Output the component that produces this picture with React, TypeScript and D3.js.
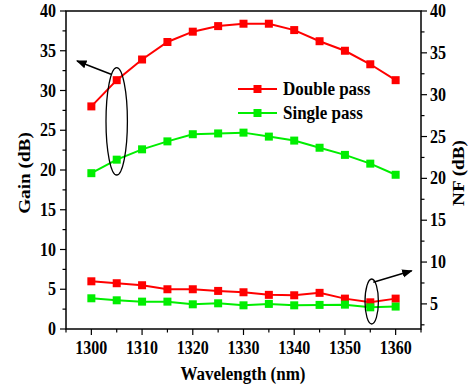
import React from "react";
import * as d3 from "d3";

const wavelengths = [1300, 1305, 1310, 1315, 1320, 1325, 1330, 1335, 1340, 1345, 1350, 1355, 1360];
const gainDouble = [28.0, 31.3, 33.9, 36.1, 37.4, 38.1, 38.4, 38.4, 37.6, 36.2, 35.0, 33.3, 31.3];
const gainSingle = [19.6, 21.3, 22.6, 23.6, 24.5, 24.6, 24.7, 24.2, 23.7, 22.8, 21.9, 20.8, 19.4];
const nfDouble = [7.7, 7.47, 7.23, 6.75, 6.75, 6.55, 6.39, 6.08, 6.03, 6.32, 5.63, 5.19, 5.63];
const nfSingle = [5.67, 5.43, 5.27, 5.27, 4.95, 5.07, 4.83, 5.0, 4.83, 4.88, 4.91, 4.59, 4.68];
const xTicks = [1300, 1310, 1320, 1330, 1340, 1350, 1360];
const leftTicks = [0, 5, 10, 15, 20, 25, 30, 35, 40];
const rightTicks = [5, 10, 15, 20, 25, 30, 35, 40];

const RED = "#ff0000";
const GREEN = "#00ee00";
const FONT = "'Liberation Serif', 'Times New Roman', serif";
const SY = 1.13; // the original figure is a little taller than wide

function T(props: { x: number; y: number; size: number; anchor?: string; rotate?: boolean; children: React.ReactNode }) {
  const { x, y, size, anchor = "start", rotate, children } = props;
  const tr = rotate ? `translate(${x},${y}) scale(1,${SY}) rotate(-90)` : `translate(${x},${y}) scale(1,${SY})`;
  return (
    <text transform={tr} textAnchor={anchor} fontSize={size} fontWeight="bold">
      {children}
    </text>
  );
}

export default function App() {
  const W = 472;
  const H = 389;
  const m = { left: 66, right: 421, top: 11, bottom: 329 };

  const x = d3.scaleLinear().domain([1295, 1365]).range([m.left, m.right]);
  const yL = d3.scaleLinear().domain([0, 40]).range([m.bottom, m.top]);
  const yR = d3.scaleLinear().domain([2, 40]).range([m.bottom, m.top]);

  const lineL = d3.line<number>().x((_, i) => x(wavelengths[i])).y((d) => yL(d));
  const lineR = d3.line<number>().x((_, i) => x(wavelengths[i])).y((d) => yR(d));

  const series = [
    { vals: gainDouble, line: lineL, y: yL, color: RED },
    { vals: gainSingle, line: lineL, y: yL, color: GREEN },
    { vals: nfDouble, line: lineR, y: yR, color: RED },
    { vals: nfSingle, line: lineR, y: yR, color: GREEN },
  ];

  const xMinor = d3.range(1295, 1366, 5);
  const leftMinor = d3.range(0, 40.1, 2.5);
  const rightMinor = d3.range(2.5, 40.1, 2.5);
  const ms = 8;

  return (
    <svg width={W} height={H} style={{ position: "absolute", left: 0, top: 0 }} fontFamily={FONT}>
      <rect width={W} height={H} fill="#fff" />
      {/* frame */}
      <rect x={m.left} y={m.top} width={m.right - m.left} height={m.bottom - m.top} fill="none" stroke="#000" strokeWidth={1.5} />

      {/* x ticks */}
      {xMinor.map((v) => (
        <line key={"xm" + v} x1={x(v)} x2={x(v)} y1={m.bottom} y2={m.bottom + (v % 10 === 0 ? 6 : 3.5)} stroke="#000" strokeWidth={1.2} />
      ))}
      {xTicks.map((v) => (
        <T key={"xt" + v} x={x(v)} y={m.bottom + 25} size={16} anchor="middle">{v}</T>
      ))}

      {/* left ticks */}
      {leftMinor.map((v) => (
        <line key={"lm" + v} x1={m.left} x2={m.left - (v % 5 === 0 ? 6 : 3.5)} y1={yL(v)} y2={yL(v)} stroke="#000" strokeWidth={1.2} />
      ))}
      {leftTicks.map((v) => (
        <T key={"lt" + v} x={m.left - 10} y={yL(v) + 6} size={16} anchor="end">{v}</T>
      ))}

      {/* right ticks */}
      {rightMinor.map((v) => (
        <line key={"rm" + v} x1={m.right} x2={m.right + (v % 5 === 0 ? 6 : 3.5)} y1={yR(v)} y2={yR(v)} stroke="#000" strokeWidth={1.2} />
      ))}
      {rightTicks.map((v) => (
        <T key={"rt" + v} x={m.right + 9} y={yR(v) + 6} size={16}>{v}</T>
      ))}

      {/* axis titles */}
      <T x={243} y={380} size={17} anchor="middle">Wavelength (nm)</T>
      <T x={29.5} y={173} size={17} anchor="middle" rotate>Gain (dB)</T>
      <T x={463.5} y={173} size={17} anchor="middle" rotate>NF (dB)</T>

      {/* series */}
      {series.map((s, k) => (
        <g key={"s" + k}>
          <path d={s.line(s.vals) ?? ""} fill="none" stroke={s.color} strokeWidth={2} />
          {s.vals.map((v, i) => (
            <rect key={i} x={x(wavelengths[i]) - ms / 2} y={s.y(v) - ms / 2} width={ms} height={ms} fill={s.color} />
          ))}
        </g>
      ))}

      {/* legend */}
      {[
        { label: "Double pass", color: RED, y: 89 },
        { label: "Single pass", color: GREEN, y: 113 },
      ].map((l) => (
        <g key={l.label}>
          <line x1={238} x2={277} y1={l.y} y2={l.y} stroke={l.color} strokeWidth={2} />
          <rect x={257.5 - ms / 2} y={l.y - ms / 2} width={ms} height={ms} fill={l.color} />
          <T x={283} y={l.y + 6} size={17}>{l.label}</T>
        </g>
      ))}

      {/* annotations */}
      <defs>
        <marker id="ah" viewBox="0 0 10 10" refX={9} refY={5} markerWidth={7} markerHeight={7} orient="auto">
          <path d="M0,1 L10,5 L0,9 z" fill="#000" />
        </marker>
      </defs>
      <ellipse cx={116.7} cy={121.3} rx={10.7} ry={53.7} fill="none" stroke="#000" strokeWidth={1.3} />
      <line x1={111} y1={74.3} x2={77} y2={61} stroke="#000" strokeWidth={1.5} markerEnd="url(#ah)" />
      <ellipse cx={371.7} cy={301.5} rx={6.7} ry={22.5} fill="none" stroke="#000" strokeWidth={1.3} />
      <line x1={373.3} y1={282.3} x2={411.7} y2={270.7} stroke="#000" strokeWidth={1.5} markerEnd="url(#ah)" />
    </svg>
  );
}
